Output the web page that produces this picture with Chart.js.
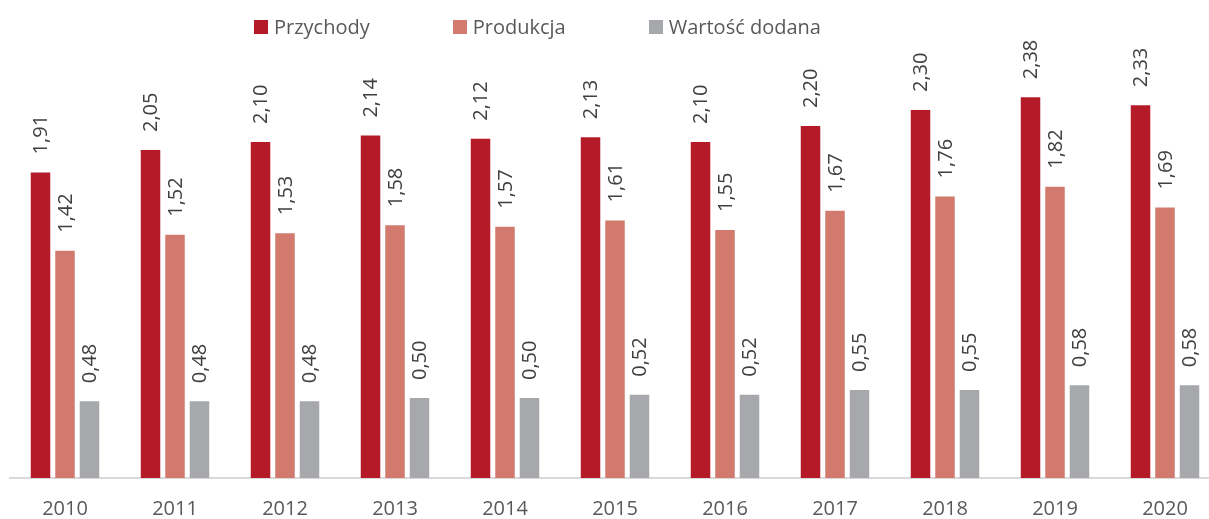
<!DOCTYPE html>
<html lang="pl">
<head>
<meta charset="utf-8">
<title>Przychody, produkcja i wartość dodana</title>
<script src="https://cdn.jsdelivr.net/npm/chart.js@4/dist/chart.umd.min.js"></script>
<style>
    html, body { margin: 0; padding: 0; background: #fff; overflow: hidden; }
    #wrap { position: relative; width: 1222px; height: 519px; overflow: hidden; }
    #chartCanvas { position: absolute; left: 0; top: 0; }
    #legend { position: absolute; left: 254px; top: 13px; margin: 0; padding: 0; list-style: none; display: flex;
              font-family: "Open Sans", sans-serif; font-size: 20px; color: #595959; }
    #legend li { display: flex; align-items: center; margin-right: 83px; }
    #legend li span.box { display: inline-block; width: 14px; height: 14px; margin-right: 6px; }
</style>
</head>
<body>
<div id="wrap">
    <canvas id="chartCanvas" width="1222" height="540"></canvas>
    <ul id="legend"></ul>
</div>
<script>
'use strict';

var years = ['2010', '2011', '2012', '2013', '2014', '2015', '2016', '2017', '2018', '2019', '2020'];
var przychody = [1.91, 2.05, 2.10, 2.14, 2.12, 2.13, 2.10, 2.20, 2.30, 2.38, 2.33];
var produkcja = [1.42, 1.52, 1.53, 1.58, 1.57, 1.61, 1.55, 1.67, 1.76, 1.82, 1.69];
var wartoscDodana = [0.48, 0.48, 0.48, 0.50, 0.50, 0.52, 0.52, 0.55, 0.55, 0.58, 0.58];

var textGrey = '#595959';
var labelGrey = '#404040';

// legend as html list, built from the chart's own legend items
var htmlLegend = {
    id: 'htmlLegend',
    afterUpdate: function (chart) {
        var ul = document.getElementById('legend');
        ul.innerHTML = '';
        var items = chart.options.plugins.legend.labels.generateLabels(chart);
        items.forEach(function (item) {
            var li = document.createElement('li');
            var box = document.createElement('span');
            box.className = 'box';
            box.style.background = item.fillStyle;
            var txt = document.createElement('span');
            txt.textContent = item.text;
            li.appendChild(box);
            li.appendChild(txt);
            ul.appendChild(li);
        });
    }
};

// vertical value labels above every bar
var barValues = {
    id: 'barValues',
    afterDatasetsDraw: function (chart) {
        var ctx = chart.ctx;
        ctx.save();
        ctx.font = '20px "Open Sans", sans-serif';
        ctx.fillStyle = labelGrey;
        ctx.textAlign = 'left';
        ctx.textBaseline = 'middle';
        chart.data.datasets.forEach(function (ds, i) {
            chart.getDatasetMeta(i).data.forEach(function (bar, j) {
                var txt = ds.data[j].toFixed(2).replace('.', ',');
                ctx.save();
                ctx.translate(bar.x + 1, bar.y - 18);
                ctx.rotate(-Math.PI / 2);
                ctx.fillText(txt, 0, 0);
                ctx.restore();
            });
        });
        ctx.restore();
    }
};

var chart = new Chart(document.getElementById('chartCanvas'), {
    type: 'bar',
    data: {
        labels: years,
        datasets: [
            { label: 'Przychody', data: przychody, backgroundColor: '#B51A29' },
            { label: 'Produkcja', data: produkcja, backgroundColor: '#D27A6E' },
            { label: 'Wartość dodana', data: wartoscDodana, backgroundColor: '#A6A8AB' }
        ]
    },
    options: {
        responsive: false,
        animation: false,
        layout: { padding: { left: 10, right: 2, top: 62, bottom: 0 } },
        datasets: {
            bar: { categoryPercentage: 0.668, barPercentage: 0.796, borderWidth: 0 }
        },
        scales: {
            x: {
                grid: { display: false, drawTicks: false },
                border: { display: true, color: '#D9D9D9', width: 2 },
                ticks: {
                    color: textGrey,
                    padding: 21,
                    font: { family: '"Open Sans", sans-serif', size: 20, lineHeight: 1 }
                }
            },
            y: {
                display: false,
                min: 0,
                max: 2.6
            }
        },
        plugins: {
            legend: { display: false },
            tooltip: { enabled: false }
        }
    },
    plugins: [htmlLegend, barValues]
});
</script>
</body>
</html>
